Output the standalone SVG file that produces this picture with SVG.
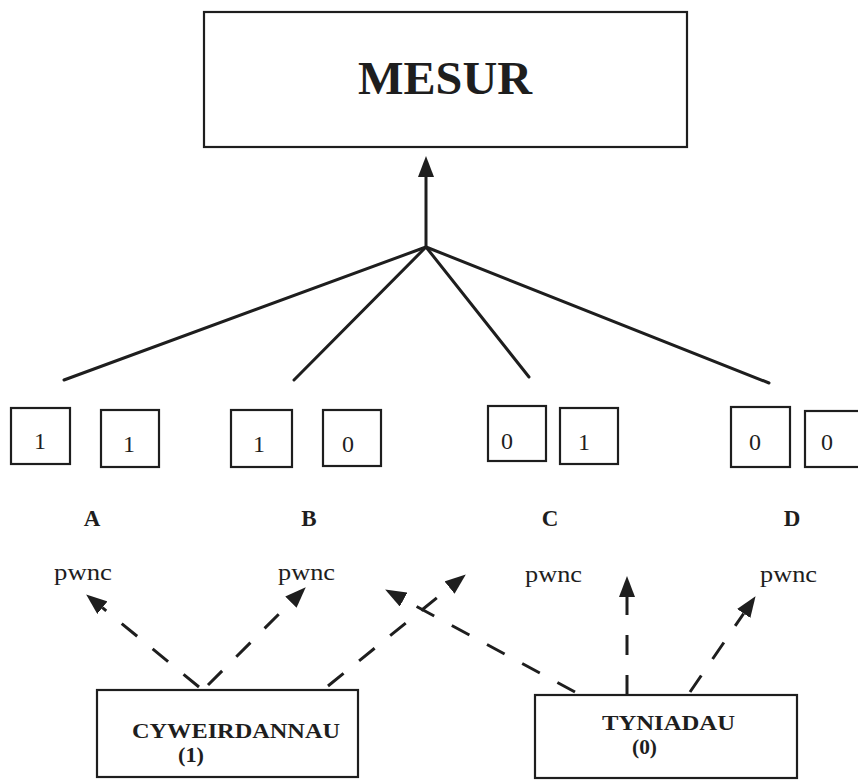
<svg xmlns="http://www.w3.org/2000/svg" width="858" height="780" viewBox="0 0 858 780">
  <defs>
    <style>
      .box { fill: #fff; stroke: #1e1e1e; stroke-width: 2.2; }
      .fan { fill: none; stroke: #1e1e1e; stroke-width: 3; stroke-linecap: round; }
      .dash { fill: none; stroke: #1e1e1e; stroke-width: 3; stroke-dasharray: 20 20; }
      .serif { font-family: "Liberation Serif", "Times New Roman", serif; fill: #1e1e1e; }
      .digit { font-size: 24px; text-anchor: middle; }
      .letter { font-size: 23px; font-weight: bold; text-anchor: middle; }
      .pwnc { font-size: 24px; }
      .name { font-size: 22px; font-weight: bold; }
    </style>
    <marker id="ah" markerUnits="userSpaceOnUse" markerWidth="22" markerHeight="16" refX="0" refY="8" orient="auto">
      <path d="M0,0 L21,8 L0,16 z" fill="#1e1e1e"/>
    </marker>
  </defs>
  <rect width="858" height="780" fill="#fff"/>

  <!-- top box -->
  <g id="mesur">
    <rect class="box" x="204" y="12" width="483" height="135"/>
    <text class="serif" x="358" y="94" font-size="46" font-weight="bold" textLength="174" lengthAdjust="spacingAndGlyphs">MESUR</text>
  </g>

  <!-- connectors -->
  <g id="connectors">
    <!-- fan into the single arrow -->
    <line class="fan" x1="426" y1="247" x2="426" y2="177" marker-end="url(#ah)"/>
    <line class="fan" x1="426" y1="247" x2="64" y2="380"/>
    <line class="fan" x1="426" y1="247" x2="294" y2="380"/>
    <line class="fan" x1="426" y1="247" x2="529" y2="377"/>
    <line class="fan" x1="426" y1="247" x2="769" y2="383"/>
    <!-- dashed arrows from the lower boxes -->
    <line class="dash" x1="199" y1="687" x2="102.4" y2="607.7" marker-end="url(#ah)"/>
    <line class="dash" x1="208" y1="685" x2="290.9" y2="602.1" marker-end="url(#ah)"/>
    <line class="dash" x1="328" y1="686" x2="449.5" y2="587.6" marker-end="url(#ah)"/>
    <line class="dash" x1="575" y1="692" x2="403.6" y2="599.5" marker-end="url(#ah)"/>
    <line class="dash" x1="627" y1="695" x2="627" y2="597" marker-end="url(#ah)"/>
    <line class="dash" x1="690" y1="692" x2="743.7" y2="613.5" marker-end="url(#ah)"/>
  </g>

  <!-- value pairs -->
  <g id="pairA">
    <rect class="box" x="11" y="408" width="59" height="56"/>
    <text class="serif digit" x="40" y="449">1</text>
    <rect class="box" x="101" y="410" width="58" height="57"/>
    <text class="serif digit" x="129" y="452">1</text>
    <text class="serif letter" x="92" y="526">A</text>
  </g>
  <g id="pairB">
    <rect class="box" x="231" y="410" width="61" height="57"/>
    <text class="serif digit" x="259" y="452">1</text>
    <rect class="box" x="323" y="410" width="58" height="56"/>
    <text class="serif digit" x="348" y="452">0</text>
    <text class="serif letter" x="309" y="526">B</text>
  </g>
  <g id="pairC">
    <rect class="box" x="488" y="406" width="58" height="55"/>
    <text class="serif digit" x="507" y="449">0</text>
    <rect class="box" x="560" y="408" width="58" height="56"/>
    <text class="serif digit" x="584" y="450">1</text>
    <text class="serif letter" x="550" y="526">C</text>
  </g>
  <g id="pairD">
    <rect class="box" x="731" y="407" width="59" height="60"/>
    <text class="serif digit" x="755" y="450">0</text>
    <rect class="box" x="805" y="411" width="60" height="56"/>
    <text class="serif digit" x="827" y="450">0</text>
    <text class="serif letter" x="792" y="526">D</text>
  </g>

  <!-- topic labels -->
  <g id="pwnc-labels">
    <text class="serif pwnc" x="54" y="580" textLength="58" lengthAdjust="spacingAndGlyphs">pwnc</text>
    <text class="serif pwnc" x="278" y="580" textLength="57" lengthAdjust="spacingAndGlyphs">pwnc</text>
    <text class="serif pwnc" x="525" y="582" textLength="57" lengthAdjust="spacingAndGlyphs">pwnc</text>
    <text class="serif pwnc" x="760" y="582" textLength="57" lengthAdjust="spacingAndGlyphs">pwnc</text>
  </g>

  <!-- source boxes -->
  <g id="cyweirdannau">
    <rect class="box" x="97" y="690" width="261" height="87"/>
    <text class="serif name" x="132" y="738" textLength="208" lengthAdjust="spacingAndGlyphs">CYWEIRDANNAU</text>
    <text class="serif name" x="178" y="762" textLength="26" lengthAdjust="spacingAndGlyphs">(1)</text>
  </g>
  <g id="tyniadau">
    <rect class="box" x="535" y="695" width="262" height="83"/>
    <text class="serif name" x="602" y="730" textLength="133" lengthAdjust="spacingAndGlyphs">TYNIADAU</text>
    <text class="serif name" x="632" y="754" textLength="25" lengthAdjust="spacingAndGlyphs">(0)</text>
  </g>
</svg>
